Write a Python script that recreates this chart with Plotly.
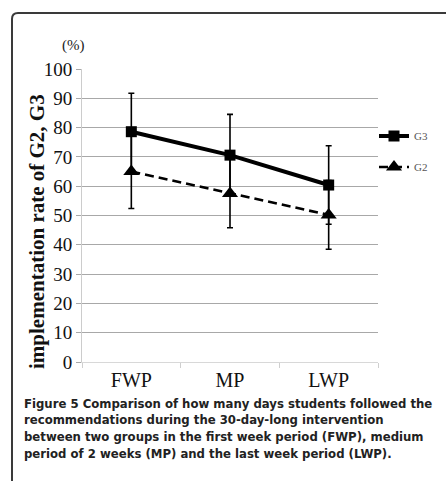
import plotly.graph_objects as go

# ---- data ----
periods = ["FWP", "MP", "LWP"]
g3_values = [78.6, 70.6, 60.4]
g3_errors = [13.1, 13.9, 13.4]
g2_values = [65.0, 57.5, 50.2]
g2_errors = [12.6, 11.7, 11.7]
y_ticks = [0, 10, 20, 30, 40, 50, 60, 70, 80, 90, 100]
legend_names = ["G3", "G2"]
caption_lines = [
    "Figure 5 Comparison of how many days students followed the",
    "recommendations during the 30-day-long intervention",
    "between two groups in the first week period (FWP), medium",
    "period of 2 weeks (MP) and the last week period (LWP).",
]

W, H = 446, 481
ML, MR, MT, MB = 82, 68, 69, 119
PW, PH = W - ML - MR, H - MT - MB


def px_x(x):
    return (x - ML) / PW


def px_y(y):
    return 1 - (y - MT) / PH


serif = "Liberation Serif, Times New Roman, serif"

fig = go.Figure()

fig.add_trace(go.Scatter(
    x=periods, y=g2_values, name=legend_names[1], legend="legend2",
    mode="lines+markers",
    line=dict(color="black", width=2.6, dash="9px,5px"),
    marker=dict(symbol="triangle-up", size=14, color="black"),
    error_y=dict(type="data", array=g2_errors, visible=True,
                 color="black", thickness=1.6, width=3),
))
fig.add_trace(go.Scatter(
    x=periods, y=g3_values, name=legend_names[0], legend="legend",
    mode="lines+markers",
    line=dict(color="black", width=4),
    marker=dict(symbol="square", size=11, color="black"),
    error_y=dict(type="data", array=g3_errors, visible=True,
                 color="black", thickness=1.6, width=3),
))

# frame with rounded top-left corner
x0, ytop = px_x(12), px_y(13)
xr, ybot = px_x(470), px_y(500)
dx, dy = 6 / PW, 6 / PH
fig.add_shape(type="path", xref="paper", yref="paper",
              path=f"M {x0},{ybot} L {x0},{ytop - dy} Q {x0},{ytop} {x0 + dx},{ytop} L {xr},{ytop}",
              line=dict(color="#3a3a3a", width=2))

fig.add_annotation(text="(%)", xref="paper", yref="paper",
                   x=px_x(60), y=px_y(35), showarrow=False,
                   font=dict(family=serif, size=15, color="#222"))

fig.add_annotation(text="<b>implementation rate of G2, G3</b>", xref="paper", yref="paper",
                   x=px_x(37), y=px_y(232), xanchor="center", yanchor="middle",
                   textangle=-90, showarrow=False,
                   font=dict(family=serif, size=21, color="#111"))

line_y = [403, 419, 436, 453]
for txt, yy in zip(caption_lines, line_y):
    fig.add_annotation(text=f"<b>{txt}</b>", xref="paper", yref="paper",
                       x=px_x(22), y=px_y(yy), xanchor="left", yanchor="middle",
                       align="left", showarrow=False,
                       font=dict(family="DejaVu Sans Condensed, Open Sans, sans-serif",
                                 size=13, color="#222"))

fig.update_layout(
    width=W, height=H,
    margin=dict(l=ML, r=MR, t=MT, b=MB),
    paper_bgcolor="white", plot_bgcolor="white",
    showlegend=True,
    legend=dict(x=px_x(374), y=px_y(136), xanchor="left", yanchor="middle",
                bgcolor="rgba(0,0,0,0)",
                font=dict(family=serif, size=11, color="#555")),
    legend2=dict(x=px_x(374), y=px_y(167), xanchor="left", yanchor="middle",
                 bgcolor="rgba(0,0,0,0)",
                 font=dict(family=serif, size=11, color="#555")),
    xaxis=dict(
        type="category", range=[-0.5, 2.5],
        showgrid=False, showline=True, linecolor="#d8d8d8", linewidth=1,
        ticks="outside", tickson="boundaries", ticklen=5, tickcolor="#cfcfcf",
        tickfont=dict(family=serif, size=20, color="#111"),
        zeroline=False,
    ),
    yaxis=dict(
        range=[0, 100], tickvals=y_ticks,
        showgrid=True, gridcolor="#a8a8a8", gridwidth=1,
        showline=True, linecolor="#cccccc", linewidth=1,
        ticks="outside", ticklen=5, tickcolor="#a8a8a8",
        tickfont=dict(family=serif, size=19, color="#111"),
        zeroline=False,
    ),
)

fig.write_html("out.html")
